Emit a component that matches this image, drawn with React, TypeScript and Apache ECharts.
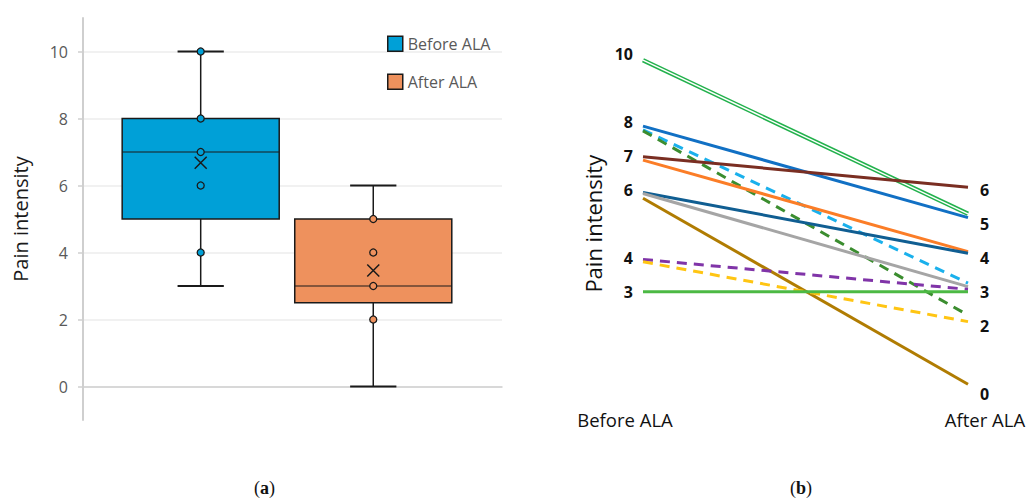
import React, { useEffect, useRef } from "react";
import * as echarts from "echarts";

// ---- Data: panel (a) box plots ----
const categories = ["Before ALA", "After ALA"];
const boxMin = [3, 0];
const boxQ1 = [5, 2.5];
const boxMedian = [7, 3];
const boxQ3 = [8, 5];
const boxMax = [10, 6];
const boxMean = [6.68, 3.46];
const pointsBefore = [10, 8, 7, 6, 4];
const pointsAfter = [5, 4, 3, 2];
const yTicks = [0, 2, 4, 6, 8, 10];

// ---- Data: panel (b) paired lines ----
const pairBefore = [9.81, 7.87, 7.76, 7.73, 6.97, 6.87, 5.92, 5.89, 5.75, 3.95, 3.88, 3.0];
const pairAfter = [5.29, 5.18, 3.25, 2.31, 6.07, 4.18, 4.13, 3.15, 0.28, 3.07, 2.12, 3.0];
const leftLabels = [3, 4, 6, 7, 8, 10];
const rightLabels = [0, 2, 3, 4, 5, 6];

// ---- Styles ----
const boxColors = ["#00a0d7", "#ee915d"];
const lineColors = [
  "#22b14c", "#1170c4", "#1ab0ec", "#3b8d2f", "#7a2e22", "#fb7d27",
  "#105e92", "#a5a5a5", "#b07c02", "#8034a8", "#ffc513", "#4cb944",
];
const lineDashed = [false, false, true, true, false, false, false, false, false, true, true, false];
const lineDouble = [true, false, false, false, false, false, false, false, false, false, false, false];

const FONT = "'Open Sans', sans-serif";

function makeBoxRender(color: string) {
  return (params: any, api: any) => {
    const x = api.value(0);
    const hw = 0.455;
    const cw = 0.134;
    const vmin = api.value(1), q1 = api.value(2), med = api.value(3), q3 = api.value(4), vmax = api.value(5);
    const c = (dx: number, v: number) => api.coord([x + dx, v]);
    const pMin = c(0, vmin), pQ1 = c(0, q1), pQ3 = c(0, q3), pMax = c(0, vmax);
    const capL0 = c(-cw, vmin), capR0 = c(cw, vmin);
    const capL1 = c(-cw, vmax), capR1 = c(cw, vmax);
    const bTL = c(-hw, q3), bBR = c(hw, q1);
    const mL = c(-hw, med), mR = c(hw, med);
    const stroke = { stroke: "#1a1a1a", lineWidth: 1.5 };
    return {
      type: "group",
      children: [
        { type: "line", shape: { x1: pMin[0], y1: pMin[1], x2: pQ1[0], y2: pQ1[1] }, style: stroke },
        { type: "line", shape: { x1: pQ3[0], y1: pQ3[1], x2: pMax[0], y2: pMax[1] }, style: stroke },
        { type: "line", shape: { x1: capL0[0], y1: capL0[1], x2: capR0[0], y2: capR0[1] }, style: { stroke: "#1a1a1a", lineWidth: 2 } },
        { type: "line", shape: { x1: capL1[0], y1: capL1[1], x2: capR1[0], y2: capR1[1] }, style: { stroke: "#1a1a1a", lineWidth: 2 } },
        {
          type: "rect",
          shape: { x: bTL[0], y: bTL[1], width: bBR[0] - bTL[0], height: bBR[1] - bTL[1] },
          style: { fill: color, stroke: "#1a1a1a", lineWidth: 1.5 },
        },
        { type: "line", shape: { x1: mL[0], y1: mL[1], x2: mR[0], y2: mR[1] }, style: { stroke: "#1a1a1a", lineWidth: 1.2 } },
      ],
    };
  };
}

export default function App() {
  const ref = useRef<HTMLDivElement>(null);

  useEffect(() => {
    document.body.style.margin = "0";
    const chart = echarts.init(ref.current!, null, { renderer: "svg" });

    const boxSeries = categories.map((name, i) => ({
      type: "custom",
      name,
      xAxisIndex: 0,
      yAxisIndex: 0,
      color: boxColors[i],
      renderItem: makeBoxRender(boxColors[i]),
      encode: { x: 0, y: [1, 2, 3, 4, 5] },
      data: [[i + 1, boxMin[i], boxQ1[i], boxMedian[i], boxQ3[i], boxMax[i]]],
      z: 2,
    }));

    const pointSets = [pointsBefore, pointsAfter];
    const pointSeries = pointSets.map((pts, i) => ({
      type: "scatter",
      xAxisIndex: 0,
      yAxisIndex: 0,
      symbol: "circle",
      symbolSize: 7,
      itemStyle: { color: boxColors[i], borderColor: "#1a1a1a", borderWidth: 1.3, opacity: 1 },
      data: pts.map((v) => [i + 1, v]),
      z: 4,
      silent: true,
    }));

    const meanSeries = {
      type: "scatter",
      xAxisIndex: 0,
      yAxisIndex: 0,
      symbol: "path://M0,0L10,10M10,0L0,10",
      symbolSize: 12,
      itemStyle: { color: "none", borderColor: "#1a1a1a", borderWidth: 1.5, opacity: 1 },
      data: boxMean.map((v, i) => [i + 1, v]),
      z: 5,
      silent: true,
    };

    const lineSeries: any[] = [];
    pairBefore.forEach((b, i) => {
      const data = [[0, b], [1, pairAfter[i]]];
      if (lineDouble[i]) {
        lineSeries.push({
          type: "line", xAxisIndex: 1, yAxisIndex: 1, symbol: "none", silent: true,
          data, lineStyle: { color: lineColors[i], width: 4.5 }, z: 2,
        });
        lineSeries.push({
          type: "line", xAxisIndex: 1, yAxisIndex: 1, symbol: "none", silent: true,
          data, lineStyle: { color: "#ffffff", width: 1.4 }, z: 2,
        });
      } else {
        lineSeries.push({
          type: "line", xAxisIndex: 1, yAxisIndex: 1, symbol: "none", silent: true,
          data,
          lineStyle: { color: lineColors[i], width: 3, type: lineDashed[i] ? [10, 7] : "solid", cap: "butt" },
          z: 2,
        });
      }
    });

    chart.setOption({
      animation: false,
      textStyle: { fontFamily: FONT },
      legend: {
        data: categories.map((name, i) => ({
          name,
          icon: "rect",
          itemStyle: { color: boxColors[i], borderColor: "#1a1a1a", borderWidth: 1.5 },
        })),
        orient: "vertical",
        left: 387,
        top: 35.5,
        padding: 0,
        itemWidth: 15,
        itemHeight: 15,
        itemGap: 21.5,
        itemTextGap: 10,
        selectedMode: false,
        textStyle: { color: "#595959", fontSize: 16, fontFamily: FONT },
      },
      grid: [
        { left: 83, top: 18, right: 527, bottom: 80 },
        { left: 643, top: 53.7, right: 61, bottom: 106.3 },
      ],
      xAxis: [
        {
          type: "value", gridIndex: 0, min: 0.318, max: 2.746,
          axisLine: { show: true, lineStyle: { color: "#d0d0d0", width: 1.5 } },
          axisTick: { show: false }, axisLabel: { show: false }, splitLine: { show: false },
        },
        {
          type: "value", gridIndex: 1, min: 0, max: 1, interval: 1,
          axisLine: { show: false }, axisTick: { show: false }, splitLine: { show: false },
          axisLabel: {
            margin: 14,
            hideOverlap: false,
            formatter: (v: number) => (v === 0 ? "{a|" + categories[0] + "}" : "{b|" + categories[1] + "}"),
            rich: {
              a: { fontSize: 18.5, color: "#111", fontFamily: FONT, padding: [0, 36, 0, 0], lineHeight: 24 },
              b: { fontSize: 18.5, color: "#111", fontFamily: FONT, padding: [0, 0, 0, 34], lineHeight: 24 },
            },
          },
        },
      ],
      yAxis: [
        {
          type: "value", gridIndex: 0, min: -1, max: 11,
          name: "Pain intensity", nameLocation: "middle", nameGap: 53,
          nameTextStyle: { fontSize: 20, color: "#1a1a1a", fontFamily: FONT },
          axisLine: { show: true, lineStyle: { color: "#cfcfcf", width: 2 } },
          axisTick: { show: true, length: 5, customValues: yTicks, lineStyle: { color: "#cfcfcf", width: 1.5 } },
          axisLabel: { customValues: yTicks, color: "#595959", fontSize: 16, margin: 15, fontFamily: FONT },
          splitLine: { show: true, lineStyle: { color: "#ececec", width: 1.5 } },
        },
        {
          type: "value", gridIndex: 1, min: 0, max: 10,
          name: "Pain intensity", nameLocation: "middle", nameGap: 39,
          nameTextStyle: { fontSize: 22, color: "#111", fontFamily: FONT },
          axisLine: { show: false }, axisTick: { show: false }, splitLine: { show: false },
          axisLabel: { customValues: leftLabels, fontWeight: "bold", fontSize: 16, color: "#111", margin: 10, fontFamily: FONT },
        },
        {
          type: "value", gridIndex: 1, min: 0, max: 10, position: "right",
          axisLine: { show: false }, axisTick: { show: false }, splitLine: { show: false },
          axisLabel: { customValues: rightLabels, fontWeight: "bold", fontSize: 16, color: "#111", margin: 12, fontFamily: FONT },
        },
      ],
      graphic: [
        {
          type: "text", left: 254, top: 479,
          style: {
            text: "{p|(}{b|a}{p|)}",
            rich: {
              p: { fontFamily: "'Liberation Serif', serif", fontSize: 18, fill: "#111" },
              b: { fontFamily: "'Liberation Serif', serif", fontSize: 18, fontWeight: "bold", fill: "#111" },
            },
          },
        },
        {
          type: "text", left: 790, top: 479,
          style: {
            text: "{p|(}{b|b}{p|)}",
            rich: {
              p: { fontFamily: "'Liberation Serif', serif", fontSize: 18, fill: "#111" },
              b: { fontFamily: "'Liberation Serif', serif", fontSize: 18, fontWeight: "bold", fill: "#111" },
            },
          },
        },
      ],
      series: [...boxSeries, ...pointSeries, meanSeries, ...lineSeries],
    });

    return () => chart.dispose();
  }, []);

  return <div ref={ref} style={{ width: 1029, height: 500 }} />;
}
